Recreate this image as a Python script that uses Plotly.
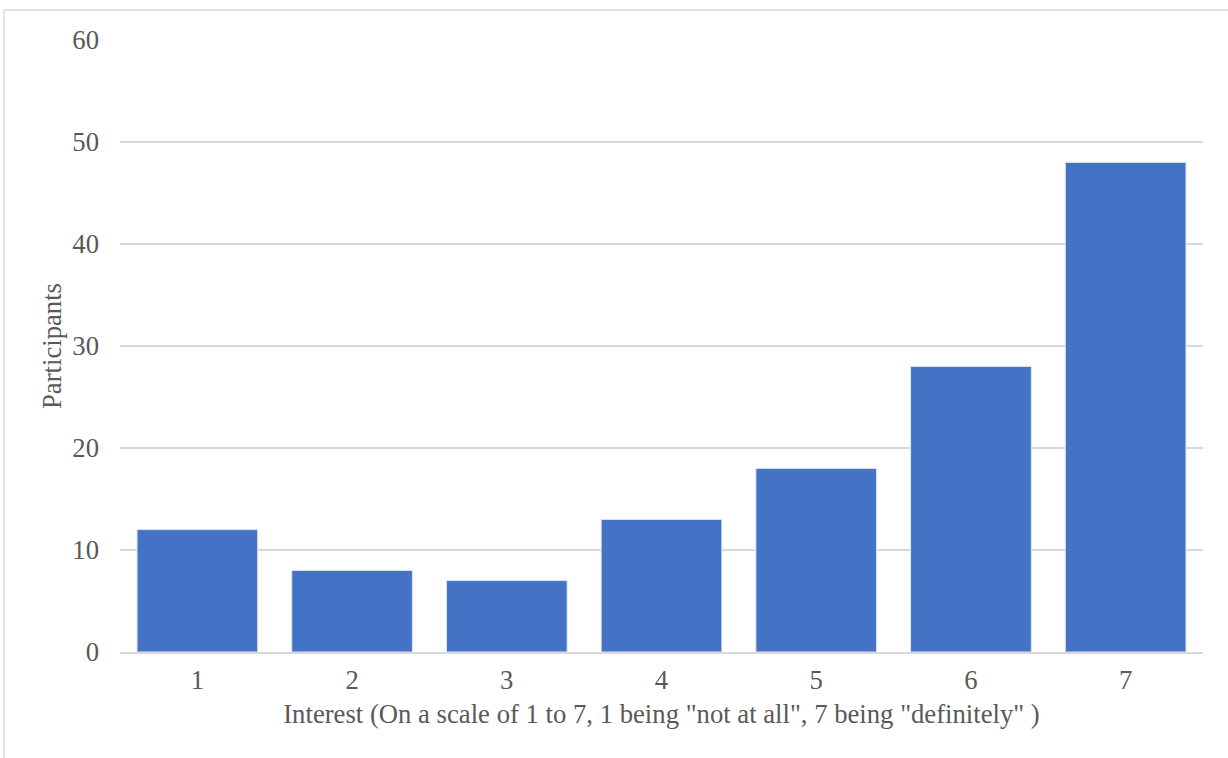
import plotly.graph_objects as go

categories = ["1", "2", "3", "4", "5", "6", "7"]
participants = [12, 8, 7, 13, 18, 28, 48]
y_ticks = [0, 10, 20, 30, 40, 50, 60]

font_family = "Liberation Serif, Times New Roman, serif"
text_grey = "#595959"
line_grey = "#d9d9d9"
font_size = 26.7

fig = go.Figure(
    go.Bar(
        x=categories,
        y=participants,
        marker=dict(color="#4472C4", line=dict(color="#dce4f3", width=1)),
        hoverinfo="x+y",
    )
)

fig.update_layout(
    width=1228,
    height=758,
    margin=dict(l=120, r=25, t=40, b=106),
    paper_bgcolor="white",
    plot_bgcolor="white",
    bargap=0.22,
    showlegend=False,
    font=dict(family=font_family, size=font_size, color=text_grey),
    xaxis=dict(
        type="category",
        showgrid=False,
        showline=True,
        linecolor=line_grey,
        linewidth=1.5,
        ticks="",
        ticklabelstandoff=3,
        tickfont=dict(size=font_size, color=text_grey),
        title=dict(
            text='Interest (On a scale of 1 to 7, 1 being "not at all", 7 being "definitely" )',
            font=dict(size=font_size, color=text_grey),
            standoff=11,
        ),
    ),
    yaxis=dict(
        range=[0, 60],
        tickvals=y_ticks,
        showgrid=True,
        gridcolor=line_grey,
        gridwidth=1.5,
        zeroline=False,
        showline=False,
        ticks="",
        ticklabelstandoff=20,
        tickfont=dict(size=font_size, color=text_grey),
        title=dict(text="Participants", font=dict(size=font_size, color=text_grey), standoff=2),
    ),
    shapes=[
        dict(
            type="rect",
            xref="paper",
            yref="paper",
            x0=-0.1071,
            x1=1.2,
            y0=-0.3,
            y1=1.049,
            line=dict(color=line_grey, width=1.5),
            fillcolor="rgba(0,0,0,0)",
            layer="below",
        )
    ],
)

fig.write_html("out.html")
